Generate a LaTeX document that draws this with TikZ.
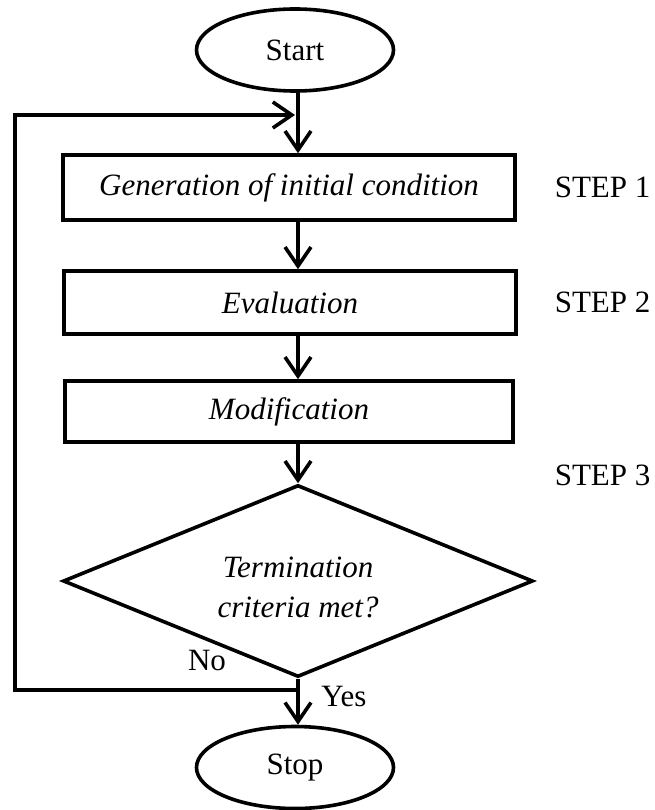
\documentclass[tikz,border=0pt]{standalone}
\usepackage{fontspec}
\setmainfont{Liberation Serif}
\usetikzlibrary{arrows.meta,shapes.geometric}
\begin{document}
\begin{tikzpicture}[x=1pt,y=-1pt,
  line width=3.6pt,
  every node/.style={font=\fontsize{31}{36}\selectfont, inner sep=0pt},
  itext/.style={font=\fontsize{31}{40}\selectfont\itshape},
  arr/.style={-{Straight Barb[length=19pt,width=26pt]}},
  procbox/.style={draw, rectangle, minimum width=452pt, minimum height=64pt, itext},
  term/.style={draw, ellipse, minimum width=197pt, minimum height=82pt},
  decision/.style={draw, diamond, shape aspect=2.45, minimum width=470pt, minimum height=192pt}
]
\useasboundingbox (0,0) rectangle (654,810);

\node[term] (start) at (295,50) {Start};
\node[procbox, minimum height=65pt] (b1) at (289,187.5) {Generation of initial condition};
\node[procbox, minimum height=63pt] (b2) at (290,302.5) {Evaluation};
\node[procbox, minimum width=448pt, minimum height=61pt] (b3) at (289,411.5) {Modification};
\node[decision] (dec) at (298,581) {};
\node[itext, align=center] (dectext) at (298,587) {Termination\\criteria met?};
\node[term] (stop) at (295,767.5) {Stop};

\node[anchor=west] (s1) at (553,187) {STEP 1};
\node[anchor=west] (s2) at (553,302) {STEP 2};
\node[anchor=west] (s3) at (553,475) {STEP 3};
\node (no) at (207,660) {No};
\node (yes) at (344,696) {Yes};

\coordinate (top) at (298,115);
\coordinate (bot) at (298,690);
\coordinate (c1) at (15,690);
\coordinate (c2) at (15,115);

\draw[arr] (top |- start.south) -- (top |- b1.north);
\draw[arr] (top |- b1.south) -- (top |- b2.north);
\draw[arr] (top |- b2.south) -- (top |- b3.north);
\draw[arr] (top |- b3.south) -- (dec.north);
\draw[arr] (dec.south) -- (top |- stop.north);
\draw[arr, shorten >=3pt] (bot) -- (c1) -- (c2) -- (top);
\end{tikzpicture}
\end{document}
